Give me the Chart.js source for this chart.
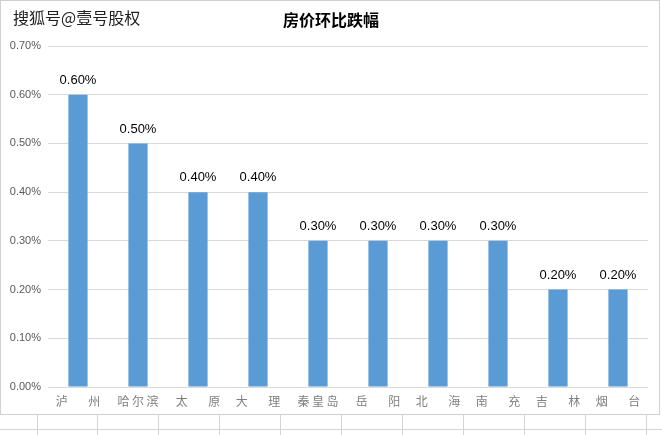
<!DOCTYPE html>
<html>
<head>
<meta charset="utf-8">
<script src="https://cdn.jsdelivr.net/npm/chart.js@4.4.1/dist/chart.umd.min.js"></script>
<style>
  html, body { margin: 0; padding: 0; background: #fff; }
  #wrap { width: 662px; height: 435px; }
</style>
</head>
<body>
<div id="wrap"><canvas id="chart1" width="662" height="435"></canvas></div>
<script>
// 城市（两字城市名中间留空，模仿原图分散对齐）
var cities = ["泸\u3000\u2002\u2009州", "哈\u2009尔\u2009滨", "太\u3000\u2002\u2009原", "大\u3000\u2002\u2009理", "秦\u2009皇\u2009岛",
              "岳\u3000\u2002\u2009阳", "北\u3000\u2002\u2009海", "南\u3000\u2002\u2009充", "吉\u3000\u2002\u2009林", "烟\u3000\u2002\u2009台"];
// 环比跌幅（%）
var drops = [0.6, 0.5, 0.4, 0.4, 0.3, 0.3, 0.3, 0.3, 0.2, 0.2];
var yTicks = [0, 0.1, 0.2, 0.3, 0.4, 0.5, 0.6, 0.7];

var decor = {
  id: 'decor',
  beforeDraw: function(chart) {
    var c = chart.ctx;
    c.save();
    c.fillStyle = '#fff';
    c.fillRect(0, 0, chart.width, chart.height);
    // 表格线
    c.strokeStyle = '#d4d4d4';
    c.lineWidth = 1;
    c.beginPath();
    c.moveTo(0, 429.5); c.lineTo(662, 429.5);
    var xs = [37, 97, 158, 219, 280, 341, 402, 463, 524, 585, 646];
    xs.forEach(function(x) { c.moveTo(x + 0.5, 415); c.lineTo(x + 0.5, 435); });
    c.stroke();
    // 图表外框
    c.strokeStyle = '#d0d0d0';
    c.strokeRect(0.5, 0.5, 659, 414);
    // 水印
    c.font = '16px "Noto Sans CJK SC", sans-serif';
    c.textBaseline = 'middle';
    c.textAlign = 'left';
    c.fillStyle = '#222';
    c.fillText('搜狐号@壹号股权', 13, 18);
    // 标题
    c.font = 'bold 16px "Noto Sans CJK SC", sans-serif';
    c.textAlign = 'center';
    c.fillStyle = '#000';
    c.fillText('房价环比跌幅', 331, 20);
    c.restore();
  },
  afterDatasetsDraw: function(chart) {
    var c = chart.ctx;
    var meta = chart.getDatasetMeta(0);
    c.save();
    c.font = '13px "Liberation Sans", sans-serif';
    c.fillStyle = '#000';
    c.textAlign = 'center';
    c.textBaseline = 'bottom';
    meta.data.forEach(function(bar, i) {
      c.fillText(drops[i].toFixed(2) + '%', bar.x, bar.y - 8);
    });
    c.restore();
  }
};

var datos = {
  type: 'bar',
  data: {
    labels: cities,
    datasets: [{
      data: drops,
      backgroundColor: '#5B9BD5',
      categoryPercentage: 1,
      barPercentage: 0.32
    }]
  },
  options: {
    responsive: false,
    animation: false,
    layout: { padding: { left: 0, right: 14, top: 46, bottom: 21 } },
    plugins: {
      legend: { display: false },
      tooltip: { enabled: false },
      title: { display: false }
    },
    scales: {
      x: {
        grid: { display: false, drawTicks: false },
        border: { display: false },
        ticks: {
          color: '#7f7f7f',
          font: { size: 12, family: '"Noto Sans CJK SC", sans-serif' },
          padding: 7,
          maxRotation: 0,
          autoSkip: false
        },
        afterFit: function(s) { s.height = 27; }
      },
      y: {
        min: 0,
        max: 0.7,
        afterBuildTicks: function(s) { s.ticks = yTicks.map(function(v) { return { value: v }; }); },
        grid: { color: '#d9d9d9', drawTicks: false },
        border: { display: false },
        ticks: {
          color: '#595959',
          font: { size: 11, family: '"Liberation Sans", sans-serif' },
          padding: 7,
          callback: function(v) { return v.toFixed(2) + '%'; }
        },
        afterFit: function(s) { s.width = 48; }
      }
    }
  },
  plugins: [decor]
};

var canvas = document.getElementById('chart1').getContext('2d');
window.bar = new Chart(canvas, datos);
</script>
</body>
</html>
